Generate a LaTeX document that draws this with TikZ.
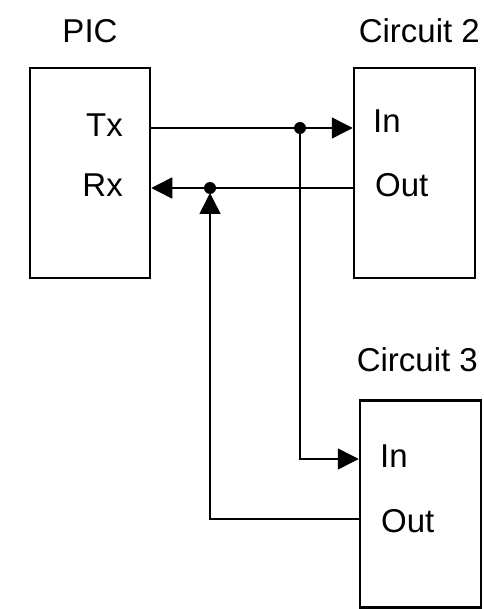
\documentclass[tikz,border=0pt]{standalone}
\usepackage{fontspec}
\setmainfont{Liberation Sans}
\usetikzlibrary{arrows.meta,positioning,calc}

\begin{document}
\begin{tikzpicture}[x=1pt,y=-1pt,>={Triangle[length=21pt,width=21pt]},
  box/.style={draw,line width=2.5pt,minimum width=120pt,minimum height=210pt,inner sep=0pt},
  lbl/.style={font=\fontsize{33}{40}\selectfont,inner sep=0pt},
  wire/.style={line width=1.5pt}]
\useasboundingbox (0,0) rectangle (483,609);
% boxes
\node[box] (pic) at (90,173) {};
\node[box,minimum width=121pt] (circ2) at (414.5,173) {};
\node[box,minimum width=121pt,minimum height=207pt] (circ3) at (420.5,504) {};
% titles
\node[lbl,anchor=base] (pictitle) at (90,43) {PIC};
\node[lbl,anchor=base east] (c2title) at (480,43) {Circuit 2};
\node[lbl,anchor=base east] (c3title) at (478,371) {Circuit 3};
% pin labels
\node[lbl,anchor=base east] (txlbl) at (123,137) {Tx};
\node[lbl,anchor=base east] (rxlbl) at (123,197) {Rx};
\node[lbl,anchor=base west] (in2lbl) at (373,133) {In};
\node[lbl,anchor=base west] (out2lbl) at (375,197) {Out};
\node[lbl,anchor=base west] (in3lbl) at (380,467) {In};
\node[lbl,anchor=base west] (out3lbl) at (381,532) {Out};
% pins and junctions
\coordinate (tx) at (pic.east |- 0,128);
\coordinate (rx) at (pic.east |- 0,188);
\coordinate (in2) at (circ2.west |- 0,128);
\coordinate (out2) at (circ2.west |- 0,188);
\coordinate (in3) at (circ3.west |- 0,459);
\coordinate (out3) at (circ3.west |- 0,519);
\coordinate (j1) at (300,128);
\coordinate (j2) at (210,188);
% wires
\draw[wire] (tx) -- (j1);
\draw[wire,->] (j1) -- (in2);
\draw[wire,->] (out2) -- (rx);
\draw[wire,->] (j1) |- (in3);
\draw[wire,->,shorten >=5pt] (out3) -| (j2);
\fill (j1) circle (6pt);
\fill (j2) circle (6pt);
\end{tikzpicture}
\end{document}
